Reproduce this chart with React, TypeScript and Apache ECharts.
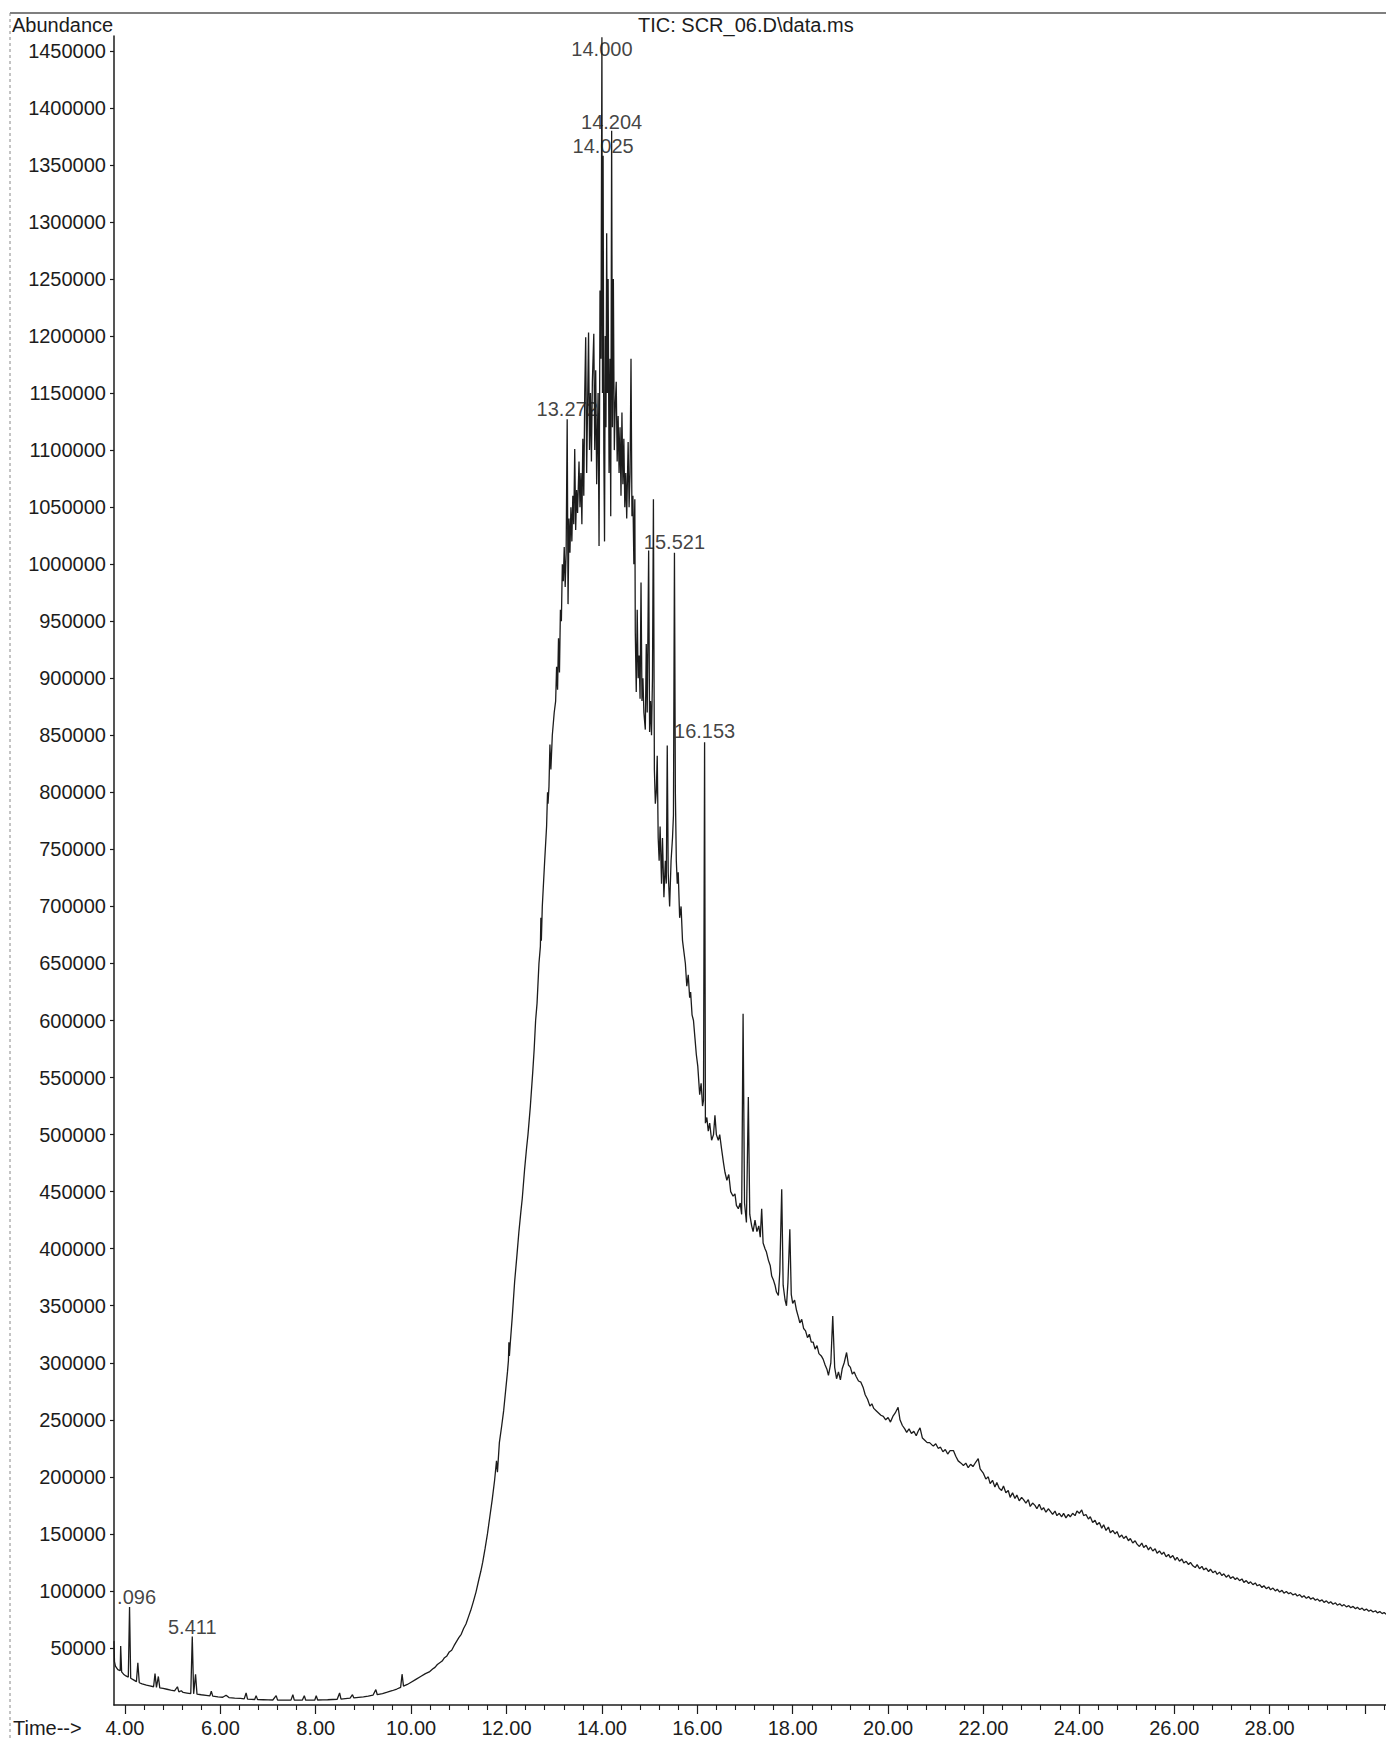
import React, { useEffect, useRef } from "react";
import * as echarts from "echarts";

const FONT = "'Liberation Sans', Arial, Helvetica, sans-serif";
const INK = "#1c1c1c";

// ---- axis ticks ----
const xMajorTicks = [4, 6, 8, 10, 12, 14, 16, 18, 20, 22, 24, 26, 28, 30];
const xLabelValues = [4, 6, 8, 10, 12, 14, 16, 18, 20, 22, 24, 26, 28];
const yTickValues = [
  50000, 100000, 150000, 200000, 250000, 300000, 350000, 400000, 450000, 500000,
  550000, 600000, 650000, 700000, 750000, 800000, 850000, 900000, 950000, 1000000,
  1050000, 1100000, 1150000, 1200000, 1250000, 1300000, 1350000, 1400000, 1450000,
];

// ---- chromatogram (time in min, abundance) ----
const baselineScan: [number, number][] = [
  [3.77, 56000], [3.78, 38000], [3.8, 34000], [3.85, 31000], [3.9, 30000], [3.91, 51700], [3.93, 29000],
  [3.97, 27000], [4.02, 25500], [4.07, 24500], [4.096, 86000], [4.12, 23500], [4.18, 22000], [4.24, 20500],
  [4.27, 37000], [4.3, 19500], [4.36, 18500], [4.45, 17500], [4.52, 16800], [4.6, 16000], [4.63, 27500],
  [4.66, 15500], [4.7, 25000], [4.73, 15000], [4.8, 14500], [4.88, 13800], [4.96, 13000], [5.04, 12300],
  [5.1, 16000], [5.13, 11500], [5.18, 12500], [5.22, 11000], [5.3, 10500], [5.38, 10000], [5.411, 60000],
  [5.44, 9800], [5.48, 27000], [5.51, 9500], [5.6, 9000], [5.7, 8500], [5.78, 8000], [5.81, 12000],
  [5.84, 7800], [5.95, 7200], [6.05, 6800], [6.12, 8600], [6.18, 6500], [6.3, 6000], [6.42, 5800],
  [6.5, 5400], [6.54, 10500], [6.57, 5100], [6.65, 4900], [6.72, 4800], [6.75, 8200], [6.78, 4700],
  [6.9, 4600], [7.0, 4500], [7.1, 4400], [7.17, 8200], [7.2, 4300], [7.3, 4300], [7.4, 4200],
  [7.48, 4300], [7.52, 9000], [7.55, 4200], [7.65, 4200], [7.72, 4300], [7.76, 8200], [7.79, 4200],
  [7.9, 4300], [7.98, 4400], [8.01, 8200], [8.04, 4400], [8.15, 4500], [8.25, 4600], [8.35, 4800],
  [8.45, 5000], [8.5, 10500], [8.53, 5200], [8.62, 5600], [8.72, 6000], [8.77, 9000], [8.8, 6200],
  [8.9, 6700], [9.0, 7200], [9.1, 7800], [9.2, 8600], [9.26, 13500], [9.29, 9000], [9.4, 10000],
  [9.5, 11200], [9.6, 12500], [9.7, 14000], [9.78, 15500], [9.81, 27000], [9.84, 16500], [9.92, 18000],
  [10.0, 20000], [10.1, 22500], [10.2, 25000], [10.3, 27500], [10.38, 29000],
];

const riseScan: [number, number][] = [
  [10.45, 31500], [10.5, 33000], [10.55, 35500], [10.6, 37000], [10.65, 38500], [10.7, 41500],
  [10.75, 43000], [10.8, 46500], [10.85, 48000], [10.9, 52000], [10.95, 55500], [11.0, 59000],
  [11.05, 62000], [11.1, 67000], [11.15, 71000], [11.2, 77000], [11.25, 83000], [11.3, 90000],
  [11.36, 99000], [11.42, 110000], [11.46, 117000], [11.5, 125000], [11.55, 137000], [11.6, 150000],
  [11.65, 165000], [11.7, 180000], [11.75, 197000], [11.79, 214000], [11.81, 204000], [11.85, 230000],
  [11.9, 245000], [11.94, 258000], [11.98, 275000], [12.02, 292000], [12.04, 302000], [12.05, 318000],
  [12.06, 306000], [12.08, 318000], [12.12, 340000], [12.17, 371000], [12.22, 395000], [12.26, 415000],
  [12.3, 432000], [12.33, 444000], [12.38, 470000], [12.42, 488000], [12.45, 500000], [12.5, 525000],
  [12.55, 555000], [12.58, 575000], [12.61, 600000], [12.64, 615000], [12.68, 650000], [12.71, 665000],
  [12.72, 690000], [12.73, 670000], [12.75, 700000], [12.8, 740000], [12.84, 770000], [12.86, 800000],
  [12.87, 790000], [12.89, 805000], [12.91, 842000], [12.93, 820000], [12.96, 850000], [13.0, 870000],
  [13.03, 880000],
];

const clusterScan: [number, number][] = [
  [13.05, 910000], [13.07, 890000], [13.09, 935000], [13.11, 905000], [13.13, 960000], [13.15, 950000],
  [13.17, 1000000], [13.19, 985000], [13.21, 1015000], [13.23, 980000], [13.25, 1010000], [13.272, 1127000],
  [13.29, 965000], [13.31, 1040000], [13.33, 1010000], [13.35, 1050000], [13.37, 1020000], [13.39, 1060000],
  [13.41, 1035000], [13.43, 1101000], [13.45, 1030000], [13.47, 1065000], [13.49, 1045000], [13.52, 1090000],
  [13.54, 1050000], [13.56, 1080000], [13.58, 1035000], [13.6, 1110000], [13.62, 1060000], [13.64, 1150000],
  [13.66, 1199000], [13.68, 1080000], [13.7, 1140000], [13.72, 1203000], [13.74, 1100000], [13.76, 1150000],
  [13.78, 1090000], [13.8, 1160000], [13.83, 1202000], [13.85, 1100000], [13.87, 1170000], [13.89, 1070000],
  [13.92, 1150000], [13.94, 1016000], [13.96, 1240000], [13.98, 1180000], [14.0, 1462000], [14.012, 1150000],
  [14.025, 1358000], [14.04, 1100000], [14.055, 1020000], [14.07, 1200000], [14.085, 1120000], [14.1, 1290000],
  [14.115, 1150000], [14.13, 1250000], [14.15, 1080000], [14.17, 1180000], [14.185, 1042000], [14.204, 1380000],
  [14.22, 1120000], [14.24, 1250000], [14.26, 1100000], [14.28, 1140000], [14.3, 1160000], [14.32, 1090000],
  [14.34, 1130000], [14.36, 1080000], [14.38, 1120000], [14.4, 1060000], [14.42, 1133000], [14.44, 1070000],
  [14.46, 1110000], [14.48, 1050000], [14.5, 1080000], [14.52, 1040000], [14.55, 1107000], [14.57, 1050000],
  [14.59, 1080000], [14.61, 1180000], [14.63, 1042000], [14.65, 1060000], [14.67, 1000000], [14.69, 1057000],
  [14.7, 940000], [14.72, 888000], [14.74, 960000], [14.76, 900000], [14.78, 920000], [14.8, 882000],
  [14.82, 984000], [14.84, 880000], [14.86, 900000], [14.88, 870000], [14.91, 855000], [14.93, 930000],
  [14.95, 870000], [14.98, 1012000], [15.0, 853000], [15.02, 880000], [15.04, 850000], [15.06, 900000],
  [15.08, 1057000], [15.1, 820000], [15.12, 790000], [15.14, 800000], [15.16, 832000], [15.18, 760000],
  [15.2, 740000], [15.22, 770000], [15.25, 720000], [15.27, 760000], [15.3, 708000], [15.33, 740000],
  [15.35, 720000], [15.37, 841000], [15.39, 730000], [15.42, 700000], [15.45, 740000], [15.48, 760000],
  [15.5, 780000], [15.521, 1010000], [15.54, 800000], [15.56, 740000], [15.58, 720000], [15.6, 730000],
  [15.63, 690000], [15.66, 700000], [15.69, 670000], [15.72, 660000], [15.75, 650000], [15.78, 630000],
  [15.81, 640000], [15.84, 620000], [15.86, 625000], [15.89, 605000], [15.92, 600000], [15.95, 585000],
  [15.98, 570000], [16.01, 560000],
];

const decayScan: [number, number][] = [
  [16.05, 535000], [16.08, 545000], [16.11, 525000], [16.13, 530000], [16.153, 844000], [16.17, 510000],
  [16.2, 515000], [16.23, 503000], [16.26, 510000], [16.3, 495000], [16.34, 500000], [16.37, 517000],
  [16.4, 500000], [16.44, 495000], [16.47, 500000], [16.51, 487000], [16.55, 475000], [16.58, 467000],
  [16.62, 460000], [16.66, 465000], [16.7, 450000], [16.75, 446000], [16.79, 448000], [16.82, 438000],
  [16.86, 435000], [16.9, 440000], [16.93, 430000], [16.96, 606000], [16.99, 440000], [17.03, 423000],
  [17.07, 533000], [17.1, 430000], [17.14, 420000], [17.17, 415000], [17.21, 425000], [17.25, 415000],
  [17.29, 420000], [17.32, 410000], [17.35, 435000], [17.38, 405000], [17.42, 400000], [17.45, 397000],
  [17.49, 390000], [17.53, 385000], [17.56, 376000], [17.6, 372000], [17.63, 368000], [17.66, 362000],
  [17.7, 359000], [17.73, 380000], [17.77, 452000], [17.8, 368000], [17.84, 355000], [17.87, 350000],
  [17.9, 370000], [17.94, 417000], [17.97, 360000], [18.0, 352000], [18.04, 355000], [18.08, 346000],
  [18.12, 340000], [18.15, 335000], [18.19, 338000], [18.23, 330000], [18.27, 328000], [18.31, 322000],
  [18.35, 325000], [18.39, 318000], [18.43, 318000], [18.47, 312000], [18.51, 315000], [18.55, 308000],
  [18.6, 306000], [18.64, 303000], [18.68, 298000], [18.72, 294000], [18.75, 289000], [18.8, 300000],
  [18.84, 341000], [18.88, 296000], [18.92, 286000], [18.96, 292000], [19.0, 285000], [19.04, 295000],
  [19.08, 300000], [19.13, 309000], [19.17, 298000], [19.21, 296000], [19.25, 290000], [19.29, 292000],
  [19.33, 288000], [19.38, 284000], [19.43, 283000], [19.48, 278000], [19.52, 272000], [19.57, 268000],
  [19.62, 262000], [19.66, 264000], [19.7, 260000], [19.75, 258000], [19.8, 256000], [19.85, 254000],
  [19.9, 253000], [19.95, 250000], [20.0, 252000], [20.05, 248000], [20.1, 253000], [20.15, 256000],
  [20.21, 261000], [20.25, 250000], [20.3, 245000], [20.35, 242000], [20.39, 239000], [20.44, 242000],
  [20.49, 238000], [20.54, 240000], [20.59, 236000], [20.63, 240000], [20.67, 243000], [20.72, 234000],
  [20.77, 232000], [20.82, 230000], [20.87, 230000], [20.92, 228000], [20.95, 227000], [21.0, 229000],
  [21.05, 225000], [21.1, 226000], [21.15, 222000], [21.2, 224000], [21.25, 220000], [21.3, 223000],
  [21.37, 223000], [21.42, 218000], [21.47, 214000], [21.53, 212000], [21.58, 210000], [21.63, 212000],
  [21.68, 208000], [21.73, 211000], [21.78, 209000], [21.84, 213000], [21.89, 216000], [21.93, 207000],
];

const tailScan: [number, number][] = [
  [22.0, 203000], [22.05, 198000], [22.1, 200000], [22.14, 194000], [22.19, 197000], [22.24, 191000],
  [22.28, 195000], [22.33, 190000], [22.38, 188000], [22.42, 192000], [22.47, 186000], [22.52, 188000],
  [22.56, 182000], [22.61, 186000], [22.66, 181000], [22.7, 184000], [22.75, 179000], [22.8, 182000],
  [22.84, 180000], [22.89, 177000], [22.94, 180000], [22.98, 174000], [23.03, 177000], [23.08, 175000],
  [23.12, 172000], [23.17, 176000], [23.22, 171000], [23.26, 173000], [23.31, 169000], [23.36, 172000],
  [23.4, 170000], [23.45, 167000], [23.5, 170000], [23.54, 166000], [23.59, 168000], [23.64, 165000],
  [23.68, 168000], [23.73, 164000], [23.78, 167000], [23.82, 165000], [23.87, 168000], [23.92, 166000],
  [23.96, 170000], [24.01, 168000], [24.06, 171000], [24.1, 166000], [24.15, 167000], [24.2, 163000],
  [24.24, 165000], [24.29, 160000], [24.34, 162000], [24.38, 158000], [24.43, 160000], [24.48, 155000],
  [24.52, 158000], [24.57, 153000], [24.62, 156000], [24.66, 151000], [24.71, 153000], [24.76, 150000],
  [24.8, 152000], [24.85, 147000], [24.9, 149000], [24.94, 146000], [24.99, 148000], [25.04, 144000],
  [25.08, 146000], [25.13, 142000], [25.18, 144000], [25.22, 141000], [25.27, 139000], [25.32, 142000],
  [25.36, 138000], [25.41, 140000], [25.46, 136000], [25.5, 138500], [25.55, 135000], [25.6, 137000],
  [25.64, 133000], [25.69, 135000], [25.74, 132000], [25.78, 134000], [25.83, 130000], [25.88, 132000],
  [25.92, 129000], [25.97, 131000], [26.02, 127000], [26.06, 129500], [26.11, 126000], [26.16, 128000],
  [26.2, 124500], [26.25, 126000], [26.3, 123000], [26.34, 125000], [26.39, 122000], [26.44, 120500],
  [26.48, 123000], [26.53, 119500], [26.58, 121500], [26.62, 118500], [26.67, 120000], [26.72, 117000],
  [26.76, 119000], [26.81, 116000], [26.86, 117500], [26.9, 114500], [26.95, 116500], [27.0, 113500],
  [27.04, 115000], [27.09, 112000], [27.14, 114000], [27.18, 111000], [27.23, 112500], [27.28, 110000],
  [27.32, 111500], [27.37, 109000], [27.42, 110500], [27.46, 107500], [27.51, 109000], [27.56, 106500],
  [27.6, 108000], [27.65, 105500], [27.7, 107000], [27.74, 104500], [27.79, 105500], [27.84, 103000],
  [27.88, 104500], [27.93, 102000], [27.98, 103500], [28.02, 101000], [28.07, 102500], [28.12, 100000],
  [28.16, 101500], [28.21, 99000], [28.26, 100500], [28.3, 98000], [28.35, 99500], [28.4, 97500],
  [28.44, 98500], [28.49, 96500], [28.54, 97500], [28.58, 95500], [28.63, 96800], [28.68, 94500],
  [28.72, 95800], [28.77, 93500], [28.82, 95000], [28.86, 92800], [28.91, 94000], [28.96, 91800],
  [29.0, 93000], [29.05, 91000], [29.1, 92200], [29.14, 90000], [29.19, 91300], [29.24, 89200],
  [29.28, 90500], [29.33, 88300], [29.38, 89600], [29.42, 87500], [29.47, 88800], [29.52, 86700],
  [29.56, 88000], [29.61, 86000], [29.66, 87100], [29.7, 85200], [29.75, 86400], [29.8, 84400],
  [29.84, 85600], [29.89, 83700], [29.94, 84900], [29.98, 83000], [30.03, 84100], [30.08, 82200],
  [30.12, 83300], [30.17, 81500], [30.22, 82600], [30.26, 80800], [30.31, 81900], [30.36, 80100],
  [30.4, 81100], [30.44, 79600],
];

// ---- peak annotations: retention time, label anchor abundance ----
const peakLabelTexts = ["14.000", "14.204", "14.025", "13.272", "15.521", "16.153", "5.411", ".096"];
const peakLabelTimes = [14.0, 14.204, 14.025, 13.272, 15.521, 16.153, 5.411, 4.096];
const peakLabelLevels = [1451600, 1387600, 1366600, 1136000, 1019500, 853800, 68400, 94700];

export default function App() {
  const ref = useRef<HTMLDivElement>(null);

  useEffect(() => {
    if (!ref.current) return;
    const chart = echarts.init(ref.current, null, { renderer: "svg" });

    const scan = [...baselineScan, ...riseScan, ...clusterScan, ...decayScan, ...tailScan];

    const xMinorTicks: number[] = [];
    xMajorTicks.forEach((m) => {
      [0.4, 0.8, 1.2, 1.6].forEach((d) => {
        const v = Math.round((m + d) * 10) / 10;
        if (v <= 30.44) xMinorTicks.push(v);
      });
    });

    const labelData = peakLabelTexts.map((t, i) => ({
      name: t,
      value: [peakLabelTimes[i], peakLabelLevels[i]],
      label: t === ".096" ? { offset: [7, 0] } : undefined,
    }));

    const axisLine = { show: true, onZero: false, lineStyle: { color: INK, width: 1.5 } };

    chart.setOption({
      animation: false,
      backgroundColor: "#ffffff",
      textStyle: { fontFamily: FONT },
      title: {
        text: "TIC: SCR_06.D\\data.ms",
        left: 638,
        top: 15,
        padding: 0,
        textStyle: { fontSize: 20, fontWeight: "normal", color: INK, fontFamily: FONT },
      },
      grid: { left: 114, right: 0, top: 36, bottom: 33 },
      xAxis: [
        {
          type: "value",
          min: 3.77,
          max: 30.44,
          position: "bottom",
          axisLine,
          axisTick: { show: true, customValues: xMajorTicks, length: 9, lineStyle: { color: INK, width: 1.2 } },
          axisLabel: {
            show: true,
            customValues: xLabelValues,
            formatter: (v: number) => v.toFixed(2),
            fontSize: 20,
            color: INK,
            margin: 13,
            fontFamily: FONT,
          },
          splitLine: { show: false },
        },
        {
          type: "value",
          min: 3.77,
          max: 30.44,
          position: "bottom",
          axisLine: { show: false, onZero: false },
          axisTick: { show: true, customValues: xMinorTicks, length: 5, lineStyle: { color: INK, width: 1.1 } },
          axisLabel: { show: false },
          splitLine: { show: false },
        },
      ],
      yAxis: {
        type: "value",
        min: 0,
        max: 1463000,
        axisLine,
        axisTick: { show: true, customValues: yTickValues, length: 4, lineStyle: { color: INK, width: 1.2 } },
        axisLabel: {
          show: true,
          customValues: yTickValues,
          formatter: (v: number) => String(Math.round(v)),
          fontSize: 20,
          color: INK,
          margin: 8,
          fontFamily: FONT,
        },
        splitLine: { show: false },
      },
      series: [
        {
          type: "line",
          data: scan,
          xAxisIndex: 0,
          yAxisIndex: 0,
          showSymbol: false,
          symbol: "none",
          silent: true,
          clip: true,
          lineStyle: { color: INK, width: 1.3 },
        },
        {
          type: "scatter",
          xAxisIndex: 0,
          yAxisIndex: 0,
          data: labelData,
          symbolSize: 1,
          itemStyle: { color: "rgba(0,0,0,0)" },
          silent: true,
          label: {
            show: true,
            position: "inside",
            formatter: (p: any) => p.name,
            fontSize: 20,
            color: "#111",
            textBorderWidth: 0,
            fontFamily: FONT,
          },
        },
      ],
      graphic: [
        {
          type: "line",
          shape: { x1: 10, y1: 13, x2: 1386, y2: 13 },
          style: { stroke: "#555", lineWidth: 1.5 },
          silent: true,
        },
        {
          type: "line",
          shape: { x1: 10, y1: 13, x2: 10, y2: 1738 },
          style: { stroke: "#888", lineWidth: 1, lineDash: [3, 3] },
          silent: true,
        },
        {
          type: "text",
          x: 12,
          y: 25,
          style: { text: "Abundance", fontSize: 20, fill: INK, fontFamily: FONT, verticalAlign: "middle" },
        },
        {
          type: "text",
          x: 13,
          y: 1728,
          style: { text: "Time-->", fontSize: 20, fill: INK, fontFamily: FONT, verticalAlign: "middle" },
        },
      ],
    });

    return () => chart.dispose();
  }, []);

  return (
    <div
      ref={ref}
      style={{ position: "absolute", left: 0, top: 0, width: 1386, height: 1738, background: "#fff" }}
    />
  );
}
